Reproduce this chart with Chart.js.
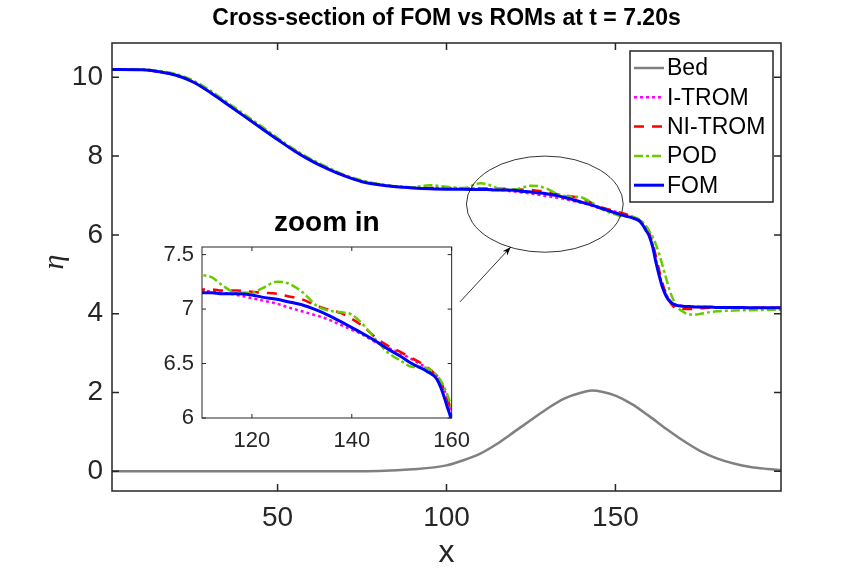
<!DOCTYPE html>
<html>
<head>
<meta charset="utf-8">
<script src="https://cdn.jsdelivr.net/npm/chart.js@4.4.1/dist/chart.umd.min.js"></script>
<style>
    body { margin: 0; background: #fff; }
    #wrap { position: relative; width: 864px; height: 576px; }
    #mainChart { position: absolute; left: 0; top: 0; }
    #zoomChart { position: absolute; left: 140px; top: 200px; }
</style>
</head>
<body>
<div id="wrap">
    <canvas id="mainChart" width="864" height="576"></canvas>
    <canvas id="zoomChart" width="340" height="260"></canvas>
</div>
<script>
const fontFamily = "'Liberation Sans', Arial, Helvetica, sans-serif";
const titleText = 'Cross-section of FOM vs ROMs at t = 7.20s';
const zoomTitle = 'zoom in';
const seriesNames = ['Bed', 'I-TROM', 'NI-TROM', 'POD', 'FOM'];

// shared x grid of the surface series
const xGrid = [1, 10, 15, 20, 25, 30, 35, 40, 45, 50,
    55, 60, 65, 70, 75, 80, 85, 90, 95, 100,
    105, 110, 112, 114, 117, 120, 122, 125, 127, 130,
    133, 135, 138, 140, 142, 145, 147, 150, 152, 155,
    157, 158, 159, 160, 161, 162, 163, 164, 165, 166,
    167, 168, 170, 172, 174, 176, 178, 180, 185, 190,
    199];
const fomY = [10.20, 10.19, 10.14, 10.05, 9.88, 9.62, 9.32, 9.02, 8.72, 8.42,
    8.13, 7.88, 7.67, 7.49, 7.35, 7.27, 7.22, 7.19, 7.17, 7.16,
    7.16, 7.15, 7.15, 7.14, 7.14, 7.13, 7.11, 7.09, 7.07, 7.04,
    6.99, 6.95, 6.88, 6.83, 6.78, 6.70, 6.64, 6.56, 6.50, 6.43,
    6.36, 6.26, 6.12, 5.97, 5.70, 5.30, 4.95, 4.65, 4.45, 4.32,
    4.25, 4.21, 4.19, 4.18, 4.17, 4.17, 4.17, 4.16, 4.16, 4.15,
    4.15];
const itromY = [10.20, 10.19, 10.14, 10.05, 9.88, 9.63, 9.33, 9.03, 8.73, 8.43,
    8.14, 7.89, 7.68, 7.50, 7.36, 7.28, 7.23, 7.20, 7.19, 7.19,
    7.18, 7.17, 7.16, 7.15, 7.13, 7.10, 7.08, 7.05, 7.02, 6.98,
    6.94, 6.91, 6.85, 6.81, 6.77, 6.69, 6.65, 6.59, 6.54, 6.46,
    6.39, 6.31, 6.20, 6.03, 5.75, 5.36, 5.00, 4.70, 4.49, 4.35,
    4.27, 4.22, 4.19, 4.18, 4.17, 4.17, 4.17, 4.16, 4.16, 4.15,
    4.15];
const nitromY = [10.20, 10.19, 10.14, 10.05, 9.88, 9.63, 9.33, 9.03, 8.73, 8.43,
    8.14, 7.89, 7.68, 7.50, 7.36, 7.28, 7.23, 7.20, 7.19, 7.18,
    7.18, 7.18, 7.18, 7.17, 7.17, 7.16, 7.15, 7.14, 7.12, 7.09,
    7.03, 7.00, 6.96, 6.91, 6.85, 6.73, 6.67, 6.60, 6.55, 6.47,
    6.38, 6.31, 6.19, 6.05, 5.80, 5.45, 5.08, 4.75, 4.50, 4.32,
    4.20, 4.14, 4.12, 4.12, 4.13, 4.14, 4.15, 4.15, 4.15, 4.15,
    4.15];
const podY = [10.20, 10.20, 10.16, 10.08, 9.92, 9.67, 9.37, 9.07, 8.77, 8.46,
    8.17, 7.92, 7.71, 7.52, 7.38, 7.29, 7.23, 7.21, 7.26, 7.22,
    7.19, 7.31, 7.29, 7.22, 7.15, 7.15, 7.19, 7.25, 7.24, 7.16,
    7.03, 6.99, 6.97, 6.95, 6.87, 6.71, 6.61, 6.52, 6.47, 6.46,
    6.39, 6.33, 6.23, 6.10, 5.95, 5.75, 5.50, 5.20, 4.90, 4.60,
    4.38, 4.20, 4.05, 3.98, 3.98, 4.01, 4.04, 4.06, 4.08, 4.09,
    4.10];

const bedX = [1, 60, 80, 90, 100, 105, 110, 115, 120, 125,
    130, 135, 140, 143, 146, 150, 155, 160, 165, 170,
    175, 180, 185, 190, 195, 199];
const bedY = [0, 0, 0.01, 0.05, 0.15, 0.28, 0.45, 0.70, 1.00, 1.30,
    1.60, 1.85, 2.00, 2.05, 2.02, 1.92, 1.70, 1.40, 1.08, 0.78,
    0.52, 0.33, 0.20, 0.11, 0.06, 0.03];

const mainXTicks = [50, 100, 150];
const mainYTicks = [0, 2, 4, 6, 8, 10];
const zoomXTicks = [120, 140, 160];
const zoomYTicks = [6, 6.5, 7, 7.5];

const styles = {
    'Bed': { color: '#808080', width: 2.5, dash: [], order: 4 },
    'I-TROM': { color: '#ff00ff', width: 2.5, dash: [3, 3], order: 3 },
    'NI-TROM': { color: '#ff0000', width: 2.5, dash: [10, 8], order: 2 },
    'POD': { color: '#66cc00', width: 2.5, dash: [9, 3, 3, 3], order: 1 },
    'FOM': { color: '#0000ff', width: 3, dash: [], order: 0 }
};

function toPoints(xs, ys) {
    return xs.map(function (x, i) { return { x: x, y: ys[i] }; });
}

function makeDataset(name, xs, ys) {
    let s = styles[name];
    return {
        label: name,
        data: toPoints(xs, ys),
        borderColor: s.color,
        borderWidth: s.width,
        borderDash: s.dash,
        order: s.order,
        pointRadius: 0,
        fill: false,
        cubicInterpolationMode: 'monotone'
    };
}

function surfaceDatasets() {
    return [
        makeDataset('I-TROM', xGrid, itromY),
        makeDataset('NI-TROM', xGrid, nitromY),
        makeDataset('POD', xGrid, podY),
        makeDataset('FOM', xGrid, fomY)
    ];
}

function fixedTicks(values) {
    return function (scale) {
        scale.ticks = values.map(function (v) { return { value: v }; });
    };
}

function drawFrame(chart, xTicks, yTicks, len, color, lw) {
    let ctx = chart.ctx;
    let a = chart.chartArea;
    let xs = chart.scales.x, ys = chart.scales.y;
    ctx.save();
    ctx.strokeStyle = color;
    ctx.lineWidth = lw;
    ctx.setLineDash([]);
    ctx.beginPath();
    xTicks.forEach(function (v) {
        let p = xs.getPixelForValue(v);
        ctx.moveTo(p, a.bottom); ctx.lineTo(p, a.bottom - len);
        ctx.moveTo(p, a.top); ctx.lineTo(p, a.top + len);
    });
    yTicks.forEach(function (v) {
        let p = ys.getPixelForValue(v);
        ctx.moveTo(a.left, p); ctx.lineTo(a.left + len, p);
        ctx.moveTo(a.right, p); ctx.lineTo(a.right - len, p);
    });
    ctx.stroke();
    ctx.strokeRect(a.left, a.top, a.right - a.left, a.bottom - a.top);
    ctx.restore();
}

const mainDecor = {
    id: 'mainDecor',
    afterDatasetsDraw: function (chart) {
        let ctx = chart.ctx;
        let xs = chart.scales.x, ys = chart.scales.y;
        // ellipse round the zoomed region
        let cx = xs.getPixelForValue(129.1), cy = ys.getPixelForValue(6.78);
        let rx = xs.getPixelForValue(129.1 + 23.2) - cx;
        let ry = cy - ys.getPixelForValue(6.78 + 1.22);
        ctx.save();
        ctx.strokeStyle = '#000';
        ctx.lineWidth = 0.8;
        ctx.beginPath();
        ctx.ellipse(cx, cy, rx, ry, 0, 0, Math.PI * 2);
        ctx.stroke();
        // arrow from inset to ellipse
        let x0 = xs.getPixelForValue(104.0), y0 = ys.getPixelForValue(4.30);
        let x1 = xs.getPixelForValue(119.0), y1 = ys.getPixelForValue(5.69);
        ctx.beginPath();
        ctx.moveTo(x0, y0);
        ctx.lineTo(x1, y1);
        ctx.stroke();
        let ang = Math.atan2(y1 - y0, x1 - x0);
        ctx.fillStyle = '#000';
        ctx.beginPath();
        ctx.moveTo(x1, y1);
        ctx.lineTo(x1 - 9 * Math.cos(ang - 0.35), y1 - 9 * Math.sin(ang - 0.35));
        ctx.lineTo(x1 - 6 * Math.cos(ang), y1 - 6 * Math.sin(ang));
        ctx.lineTo(x1 - 9 * Math.cos(ang + 0.35), y1 - 9 * Math.sin(ang + 0.35));
        ctx.closePath();
        ctx.fill();
        ctx.restore();
    },
    afterDraw: function (chart) {
        let ctx = chart.ctx;
        let a = chart.chartArea;
        drawFrame(chart, mainXTicks, mainYTicks, 7, '#262626', 1.5);
        let midX = (a.left + a.right) / 2;
        ctx.save();
        ctx.textAlign = 'center';
        ctx.textBaseline = 'middle';
        ctx.fillStyle = '#000';
        ctx.font = 'bold 23px ' + fontFamily;
        ctx.fillText(titleText, midX, 19);
        ctx.fillStyle = '#262626';
        ctx.font = '32px ' + fontFamily;
        ctx.fillText('x', midX, 553);
        ctx.save();
        ctx.translate(55, 262);
        ctx.rotate(-Math.PI / 2);
        ctx.font = 'italic 30px "Liberation Serif", "DejaVu Serif", serif';
        ctx.fillText('\u03b7', 0, 0);
        ctx.restore();
        // legend
        let bx = 630, by = 51, bw = 143, bh = 151;
        ctx.fillStyle = '#fff';
        ctx.fillRect(bx, by, bw, bh);
        ctx.strokeStyle = '#262626';
        ctx.lineWidth = 1.5;
        ctx.strokeRect(bx, by, bw, bh);
        ctx.textAlign = 'left';
        ctx.font = '23px ' + fontFamily;
        seriesNames.forEach(function (name, i) {
            let s = styles[name];
            let y = 68 + i * 29.3;
            ctx.strokeStyle = s.color;
            ctx.lineWidth = s.width;
            ctx.setLineDash(s.dash);
            ctx.beginPath();
            ctx.moveTo(634, y);
            ctx.lineTo(664, y);
            ctx.stroke();
            ctx.setLineDash([]);
            ctx.fillStyle = '#000';
            ctx.fillText(name, 667, y + 1);
        });
        ctx.restore();
    }
};

const zoomDecor = {
    id: 'zoomDecor',
    beforeDatasetsDraw: function (chart) {
        let a = chart.chartArea;
        chart.ctx.save();
        chart.ctx.fillStyle = '#fff';
        chart.ctx.fillRect(a.left, a.top, a.right - a.left, a.bottom - a.top);
        chart.ctx.restore();
    },
    afterDraw: function (chart) {
        let ctx = chart.ctx;
        let a = chart.chartArea;
        drawFrame(chart, zoomXTicks, zoomYTicks, 4, '#262626', 1);
        ctx.save();
        ctx.textAlign = 'center';
        ctx.textBaseline = 'middle';
        ctx.fillStyle = '#000';
        ctx.font = 'bold 28px ' + fontFamily;
        ctx.fillText(zoomTitle, (a.left + a.right) / 2, 23);
        ctx.restore();
    }
};

function axisOptions(min, max, ticks, size, padding, fitProp, fitValue) {
    return {
        type: 'linear',
        min: min,
        max: max,
        afterBuildTicks: fixedTicks(ticks),
        afterFit: function (scale) { scale[fitProp] = fitValue; },
        grid: { display: false, drawTicks: false },
        border: { display: false },
        ticks: {
            padding: padding,
            color: '#262626',
            maxRotation: 0,
            autoSkip: false,
            font: { family: fontFamily, size: size },
            callback: function (v) { return String(v); }
        }
    };
}

function drawMainChart() {
    let datasets = [makeDataset('Bed', bedX, bedY)].concat(surfaceDatasets());
    new Chart(document.getElementById('mainChart').getContext('2d'), {
        type: 'line',
        data: { datasets: datasets },
        options: {
            responsive: false,
            animation: false,
            devicePixelRatio: 1,
            layout: { padding: { top: 43, right: 83, left: 0, bottom: 0 } },
            plugins: { legend: { display: false }, tooltip: { enabled: false } },
            scales: {
                x: axisOptions(1, 199, mainXTicks, 28, 10, 'height', 85),
                y: axisOptions(-0.5, 10.87, mainYTicks, 28, 9, 'width', 112)
            }
        },
        plugins: [mainDecor]
    });
}

function drawZoomChart() {
    new Chart(document.getElementById('zoomChart').getContext('2d'), {
        type: 'line',
        data: { datasets: surfaceDatasets() },
        options: {
            responsive: false,
            animation: false,
            devicePixelRatio: 1,
            layout: { padding: { top: 47, right: 19, left: 0, bottom: 0 } },
            plugins: { legend: { display: false }, tooltip: { enabled: false } },
            scales: {
                x: axisOptions(110, 160, zoomXTicks, 22, 10, 'height', 42),
                y: axisOptions(6, 7.57, zoomYTicks, 22, 8, 'width', 62)
            }
        },
        plugins: [zoomDecor]
    });
}

drawMainChart();
drawZoomChart();
</script>
</body>
</html>
